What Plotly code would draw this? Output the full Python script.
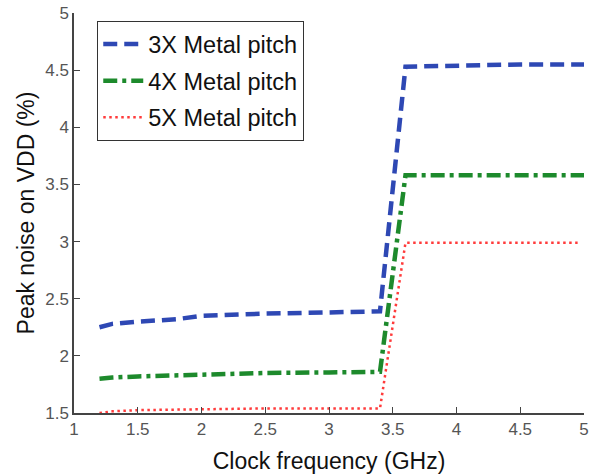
import plotly.graph_objects as go

freq_3x = [1.2, 1.3, 1.5, 1.8, 2.0, 2.5, 3.0, 3.4, 3.6, 4.0, 4.5, 5.0]
noise_3x = [2.25, 2.28, 2.30, 2.32, 2.35, 2.37, 2.38, 2.39, 4.53, 4.54, 4.55, 4.55]

freq_4x = [1.2, 1.3, 1.5, 1.8, 2.0, 2.5, 3.0, 3.4, 3.6, 4.0, 4.5, 5.0]
noise_4x = [1.80, 1.81, 1.82, 1.83, 1.84, 1.85, 1.855, 1.86, 3.58, 3.58, 3.58, 3.58]

freq_5x = [1.2, 1.3, 1.5, 1.8, 2.0, 2.5, 3.0, 3.4, 3.6, 4.0, 4.5, 4.95]
noise_5x = [1.50, 1.515, 1.525, 1.53, 1.535, 1.54, 1.54, 1.54, 2.99, 2.99, 2.99, 2.99]

series_names = ["3X Metal pitch", "4X Metal pitch", "5X Metal pitch"]

x_ticks = [1, 1.5, 2, 2.5, 3, 3.5, 4, 4.5, 5]
y_ticks = [1.5, 2, 2.5, 3, 3.5, 4, 4.5, 5]

FONT = "Liberation Sans, Arial, Helvetica, sans-serif"

fig = go.Figure()
fig.add_trace(go.Scatter(x=freq_3x, y=noise_3x, mode="lines", name=series_names[0],
                         legendgroup="a",
                         line=dict(color="#2E48B4", width=4.5, dash="14px,7px")))
fig.add_trace(go.Scatter(x=freq_4x, y=noise_4x, mode="lines", name=series_names[1],
                         legendgroup="b",
                         line=dict(color="#1D8A2C", width=4.5, dash="14px,5px,4px,5px")))
fig.add_trace(go.Scatter(x=freq_5x, y=noise_5x, mode="lines", name=series_names[2],
                         legendgroup="c",
                         line=dict(color="#FF3B3B", width=2.5, dash="2.5px,3.5px")))

axis_common = dict(
    showline=True, linecolor="#444444", linewidth=1.5,
    ticks="inside", ticklen=6, tickcolor="#444444", tickwidth=1.3,
    showgrid=False, zeroline=False, mirror=False,
    automargin=False,
    ticklabeloverflow="allow",
    tickfont=dict(family=FONT, size=17, color="#555555"),
)

fig.update_xaxes(range=[1, 5], tickvals=x_ticks,
                 ticktext=[str(v) for v in x_ticks],
                 title=dict(text="Clock frequency (GHz)", standoff=15,
                            font=dict(family=FONT, size=23, color="#111111")),
                 **axis_common)
fig.update_yaxes(range=[1.5, 5], tickvals=y_ticks,
                 ticktext=[str(v) for v in y_ticks],
                 title=dict(text="Peak noise on VDD (%)", standoff=4,
                            font=dict(family=FONT, size=23, color="#111111")),
                 **axis_common)

fig.update_layout(
    width=595, height=475,
    margin=dict(l=74, r=11, t=13, b=62, autoexpand=False),
    plot_bgcolor="white", paper_bgcolor="white",
    legend=dict(
        x=0.045, y=0.98, xanchor="left", yanchor="top",
        bgcolor="white", bordercolor="#333333", borderwidth=1.3,
        font=dict(family=FONT, size=23.5, color="#111111"),
        itemwidth=40, traceorder="grouped", tracegroupgap=3,
    ),
)

fig.write_html("out.html",
               config={"displayModeBar": False},
               post_script="document.body.style.margin='0';document.body.style.overflow='hidden';")
